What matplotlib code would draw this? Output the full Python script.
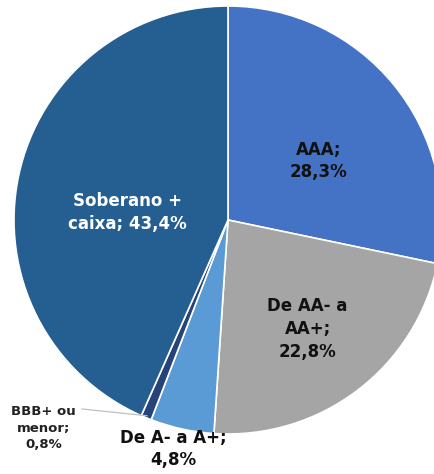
import numpy as np
import matplotlib.pyplot as plt

# dados (ordem horaria a partir do topo)
categorias = ["AAA", "De AA- a AA+", "De A- a A+", "BBB+ ou menor", "Soberano + caixa"]
valores = [28.3, 22.8, 4.8, 0.8, 43.4]
rotulos = ["AAA;\n28,3%", "De AA- a\nAA+;\n22,8%", "De A- a A+;\n4,8%",
           "BBB+ ou\nmenor;\n0,8%", "Soberano +\ncaixa; 43,4%"]
cores = ["#4472C4", "#A5A5A5", "#5B9BD5", "#264478", "#255E91"]

W, H = 434, 474
cx, cy, R = 228, 220, 214  # centro e raio em pixels

fig = plt.figure(figsize=(W / 100, H / 100), dpi=100)
ax = fig.add_axes([0, 0, 1, 1])

wedges, _ = ax.pie(valores, colors=cores, startangle=90, counterclock=False,
                   radius=1.0, wedgeprops=dict(edgecolor="white", linewidth=1.2))

ax.set_xlim(-cx / R, (W - cx) / R)
ax.set_ylim(-(H - cy) / R, cy / R)
ax.set_aspect("equal")
ax.axis("off")

# posicao dos rotulos: fracao do raio e desvio do angulo medio (graus)
pos_r = [0.505, 0.63, 1.10, 1.30, 0.47]
pos_da = [-6, -1, -1, -19, 7.5]
tam = [12, 12, 12, 9.5, 12]
cor_txt = ["#111111", "#111111", "#111111", "#222222", "white"]

for i, w in enumerate(wedges):
    mid = (w.theta1 + w.theta2) / 2 + pos_da[i]
    x = pos_r[i] * np.cos(np.radians(mid))
    y = pos_r[i] * np.sin(np.radians(mid))
    ax.text(x, y, rotulos[i], ha="center", va="center", fontsize=tam[i],
            fontweight="bold", color=cor_txt[i], linespacing=1.35)

# linha de chamada do BBB
mid = np.radians((wedges[3].theta1 + wedges[3].theta2) / 2)
ax.plot([(82 - cx) / R, np.cos(mid) * 0.99], [-(409 - cy) / R, np.sin(mid) * 0.99],
        color="#bfbfbf", lw=0.9)

fig.savefig("out.png", dpi=100)
